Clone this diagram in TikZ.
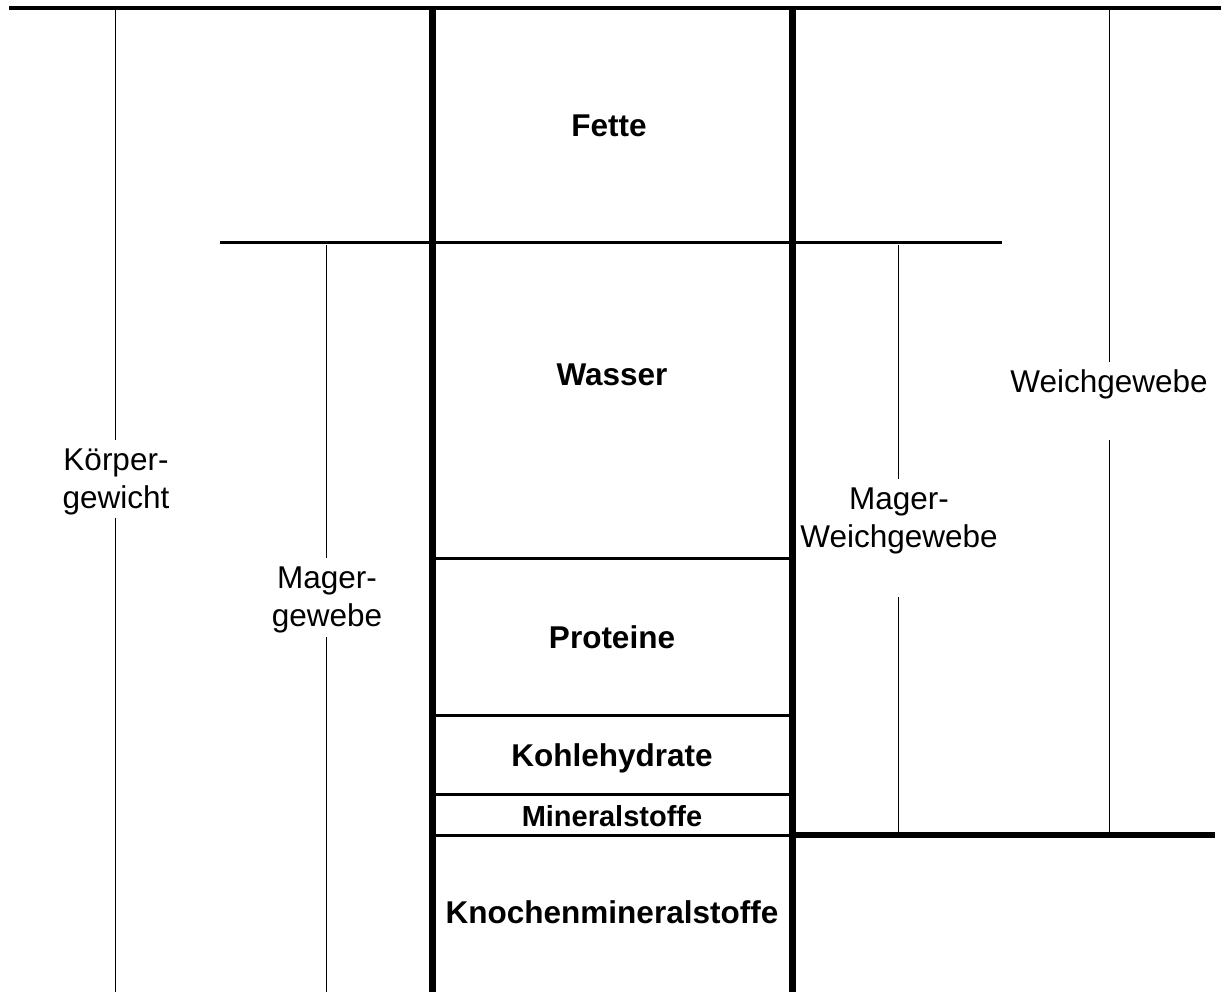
\documentclass[tikz,border=0pt]{standalone}
\usepackage{fontspec}
\setmainfont{Liberation Sans}

\begin{document}
\begin{tikzpicture}[x=1pt, y=-1pt,
    thinline/.style={line width=1pt, black},
    midline/.style={line width=3pt, black},
    thickline/.style={line width=7pt, black},
    part/.style={font=\fontsize{31.5}{38}\selectfont\bfseries, anchor=base},
    group/.style={font=\fontsize{31.5}{38}\selectfont, align=center, inner sep=0pt}]
    \useasboundingbox (0,0) rectangle (1221,992);

    % Define coordinates for the columns
    \coordinate (TopLeft) at (9, 8);
    \coordinate (TopRight) at (1221, 8);
    \coordinate (ColLeftTop) at (432, 8);
    \coordinate (ColLeftBot) at (432, 992);
    \coordinate (ColRightTop) at (792, 8);
    \coordinate (ColRightBot) at (792, 992);
    \coordinate (LeanLeft) at (220, 243);
    \coordinate (LeanRight) at (1002, 243);
    \coordinate (BoneLeft) at (432, 835);
    \coordinate (BoneMid) at (792, 835);
    \coordinate (BoneRight) at (1215, 835);

    % Top border and fat boundary
    \draw[line width=4pt] (TopLeft) -- (TopRight);
    \draw[midline] (LeanLeft) -- (LeanRight);

    % Layers inside the column
    \foreach \y in {558, 715, 794} {
        \draw[midline] (432,\y) -- (792,\y);
    }
    \draw[midline] (BoneLeft) -- (BoneMid);
    \draw[line width=6pt] (BoneMid) -- (BoneRight);

    % Column walls
    \draw[thickline] (ColLeftTop) -- (ColLeftBot);
    \draw[thickline] (ColRightTop) -- (ColRightBot);

    % Brackets, broken where the label sits
    \foreach \x/\a/\b/\c/\d in {115/10/440/518/992, 326/245/558/637/992,
                                898/245/479/597/833, 1109/10/362/440/833} {
        \draw[thinline] (\x,\a) -- (\x,\b) (\x,\c) -- (\x,\d);
    }

    % Components
    \node[part] (fette) at (609, 137) {Fette};
    \node[part] (wasser) at (612, 385) {Wasser};
    \node[part] (proteine) at (612, 648) {Proteine};
    \node[part] (kohle) at (612, 766) {Kohlehydrate};
    \node[part, font=\fontsize{29}{34}\selectfont\bfseries] (mineral) at (612, 826) {Mineralstoffe};
    \node[part] (knochen) at (612, 923) {Knochenmineralstoffe};

    % Groups
    \node[group] (koerper) at (116, 482) {Körper-\\gewicht};
    \node[group] (mager) at (327, 600) {Mager-\\gewebe};
    \node[group] (magerweich) at (899, 521) {Mager-\\Weichgewebe};
    \node[group, anchor=base] (weich) at (1109, 392) {Weichgewebe};

\end{tikzpicture}
\end{document}
